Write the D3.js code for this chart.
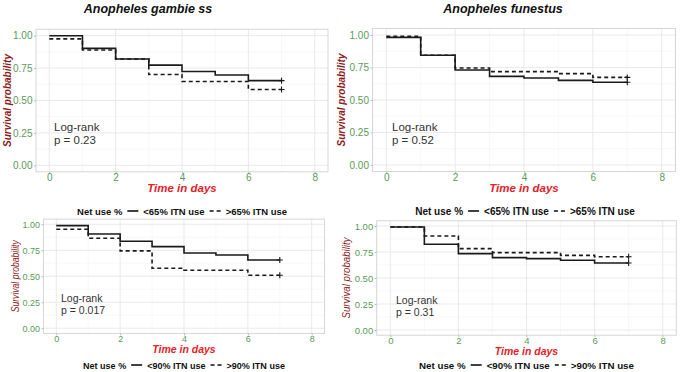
<!DOCTYPE html>
<html><head><meta charset="utf-8">
<script src="https://cdn.jsdelivr.net/npm/d3@7"></script>
<style>
html,body{margin:0;padding:0;background:#fff;}
svg{display:block;}
</style></head>
<body>
<svg id="chart" width="680" height="372"></svg>
<script>
// ---- data ----
const days = [0, 1, 2, 3, 4, 5, 6, 7];
const xTicks = [0, 2, 4, 6, 8];
const yTicks = [0, 0.25, 0.5, 0.75, 1];
const yTickLabels = ["0.00", "0.25", "0.50", "0.75", "1.00"];
// survival probability on each interval [t, t+1), t = 0..6
const gambie65Low  = [1.000, 0.902, 0.820, 0.773, 0.724, 0.697, 0.653];
const gambie65High = [0.975, 0.890, 0.820, 0.700, 0.647, 0.647, 0.585];
const funestus65Low  = [0.982, 0.844, 0.731, 0.682, 0.669, 0.651, 0.636];
const funestus65High = [0.990, 0.844, 0.746, 0.718, 0.718, 0.703, 0.674];
const gambie90Low  = [0.987, 0.907, 0.837, 0.785, 0.724, 0.705, 0.657];
const gambie90High = [0.952, 0.865, 0.744, 0.577, 0.558, 0.558, 0.510];
const funestus90Low  = [0.990, 0.824, 0.734, 0.696, 0.686, 0.670, 0.644];
const funestus90High = [0.990, 0.904, 0.782, 0.744, 0.744, 0.718, 0.705];
const titles = ["Anopheles gambie ss", "Anopheles funestus"];
const pValues = ["p = 0.23", "p = 0.52", "p = 0.017", "p = 0.31"];
const legend65 = ["Net use %", "<65% ITN use", ">65% ITN use"];
const legend90 = ["Net use %", "<90% ITN use", ">90% ITN use"];

// ---- layout ----
const svg = d3.select("#chart");
const GREEN = "#5a9a5a", DARKRED = "#8e1b1b", RED = "#e42127";
const fam = "Liberation Sans, Arial, sans-serif";
const panels = [
  {l:36, r:328, t:29.2, b:171.8, low:gambie65Low, high:gambie65High, p:pValues[0],
   tickFs:10, narrow:false, ytX:7, ytLen:93, lr:[54,127], lrFs:11.5, xtY:192, xtFs:11.5, legY:211, legC:182, legW:210, leg:legend65, legFs:10.5},
  {l:372.5, r:675.5, t:28.5, b:171.5, low:funestus65Low, high:funestus65High, p:pValues[1],
   tickFs:10, narrow:false, ytX:341, ytLen:93, lr:[392,127], lrFs:11.5, xtY:192, xtFs:11.5, legY:211, legC:525, legW:220, leg:legend65, legFs:10.5},
  {l:43.5, r:324.5, t:219.1, b:333.4, low:gambie90Low, high:gambie90High, p:pValues[2],
   tickFs:9, narrow:true, ytX:15, ytLen:72, lr:[61,297.5], lrFs:10.5, xtY:353, xtFs:10.5, legY:365, legC:184, legW:202, leg:legend90, legFs:9.5},
  {l:376.7, r:676.3, t:220.8, b:335.2, low:funestus90Low, high:funestus90High, p:pValues[3],
   tickFs:9.5, narrow:true, ytX:346, ytLen:81, lr:[396,300], lrFs:10.5, xtY:354.5, xtFs:10.5, legY:365, legC:526.5, legW:215, leg:legend90, legFs:9.5}
];

// titles
svg.append("text").attr("x",148).attr("y",12.5).attr("text-anchor","middle")
  .attr("font-family",fam).attr("font-weight","bold").attr("font-style","italic")
  .attr("font-size",12.5).attr("fill","#111").text(titles[0]);
svg.append("text").attr("x",503).attr("y",12.5).attr("text-anchor","middle")
  .attr("font-family",fam).attr("font-weight","bold").attr("font-style","italic")
  .attr("font-size",12.5).attr("fill","#111").text(titles[1]);

panels.forEach(P => {
  const x = d3.scaleLinear().domain([-0.4, 8.4]).range([P.l, P.r]);
  const y = d3.scaleLinear().domain([-0.05, 1.05]).range([P.b, P.t]);
  const g = svg.append("g");
  g.append("rect").attr("x",P.l).attr("y",P.t).attr("width",P.r-P.l).attr("height",P.b-P.t).attr("fill","#fff");
  // minor grid
  [1,3,5,7].forEach(v => g.append("line").attr("x1",x(v)).attr("x2",x(v)).attr("y1",P.t).attr("y2",P.b)
     .attr("stroke","#f3f3f3").attr("stroke-width",0.6));
  [0.125,0.375,0.625,0.875].forEach(v => g.append("line").attr("y1",y(v)).attr("y2",y(v)).attr("x1",P.l).attr("x2",P.r)
     .attr("stroke","#f3f3f3").attr("stroke-width",0.6));
  // major grid
  xTicks.forEach(v => g.append("line").attr("x1",x(v)).attr("x2",x(v)).attr("y1",P.t).attr("y2",P.b)
     .attr("stroke","#e6e6e6").attr("stroke-width",0.9));
  yTicks.forEach(v => g.append("line").attr("y1",y(v)).attr("y2",y(v)).attr("x1",P.l).attr("x2",P.r)
     .attr("stroke","#e6e6e6").attr("stroke-width",0.9));
  g.append("rect").attr("x",P.l).attr("y",P.t).attr("width",P.r-P.l).attr("height",P.b-P.t)
     .attr("fill","none").attr("stroke","#d2d2d2").attr("stroke-width",0.9);

  // axes via d3
  const xAxis = d3.axisBottom(x).tickValues(xTicks).tickSize(2).tickPadding(0);
  const ax = g.append("g").attr("transform",`translate(0,${P.b})`).call(xAxis);
  ax.select(".domain").remove();
  ax.selectAll("line").attr("stroke","#bbb");
  ax.selectAll("text").attr("fill",GREEN).attr("font-size",P.tickFs).attr("font-family",fam);
  const yAxis = d3.axisLeft(y).tickValues(yTicks).tickFormat((d,i)=>yTickLabels[i]).tickSize(2).tickPadding(1.5);
  const ay = g.append("g").attr("transform",`translate(${P.l},0)`).call(yAxis);
  ay.select(".domain").remove();
  ay.selectAll("line").attr("stroke","#bbb");
  ay.selectAll("text").attr("fill",GREEN).attr("font-size",P.tickFs).attr("font-family",fam);

  // curves
  const line = d3.line().x(d=>x(d[0])).y(d=>y(d[1])).curve(d3.curveStepAfter);
  const pts = arr => days.map((t,i) => [t, arr[Math.min(i, arr.length-1)]]);
  g.append("path").attr("d", line(pts(P.high))).attr("fill","none").attr("stroke","#1a1a1a")
    .attr("stroke-width",1.6).attr("stroke-dasharray","4,3");
  g.append("path").attr("d", line(pts(P.low))).attr("fill","none").attr("stroke","#1a1a1a")
    .attr("stroke-width",1.6);
  // censor marks
  [P.low, P.high].forEach(arr => {
    const cx = x(days[days.length-1]), cy = y(arr[arr.length-1]);
    g.append("path").attr("d",`M${cx-3},${cy}H${cx+3}M${cx},${cy-3}V${cy+3}`)
      .attr("stroke","#1a1a1a").attr("stroke-width",1.1);
  });

  // log-rank text
  g.append("text").attr("x",P.lr[0]).attr("y",P.lr[1]+4).attr("font-family",fam).attr("font-size",P.lrFs)
    .attr("fill","#333").text("Log-rank");
  g.append("text").attr("x",P.lr[0]).attr("y",P.lr[1]+4+P.lrFs*1.15).attr("font-family",fam).attr("font-size",P.lrFs)
    .attr("fill","#333").text(P.p);

  // y title
  const yc = (P.t+P.b)/2;
  const yt = g.append("text").attr("transform",`translate(${P.ytX+4},${yc}) rotate(-90)`).attr("text-anchor","middle")
    .attr("fill",DARKRED).attr("font-style","italic").attr("font-family",fam)
    .attr("textLength",P.ytLen).attr("lengthAdjust","spacingAndGlyphs").text("Survival probability");
  if (P.narrow) {
    yt.attr("font-size",P.ytX<100?10.5:11.5);
  } else {
    yt.attr("font-weight","bold").attr("font-size",10);
  }
  // x title
  g.append("text").attr("x",(x(0)+x(8))/2).attr("y",P.xtY).attr("text-anchor","middle")
    .attr("font-family",fam).attr("font-weight","bold").attr("font-style","italic")
    .attr("font-size",P.xtFs).attr("fill",RED).text("Time in days");

  // legend: measure, then size font so the whole row matches target width
  const meas = svg.append("text").attr("font-family",fam).attr("font-weight","bold").attr("font-size",P.legFs);
  let textSum = 0;
  P.leg.forEach(s => { meas.text(s); textSum += meas.node().getComputedTextLength(); });
  meas.remove();
  const fixed = 5 + 11 + 5 + 5 + 11 + 5;
  const fs = P.legFs * (P.legW - fixed) / textSum;
  const lg = svg.append("g");
  let cur = 0;
  const mk = (txt) => {
    const t = lg.append("text").attr("x",cur).attr("y",P.legY+3.5).attr("font-family",fam).attr("font-weight","bold")
      .attr("font-size",fs).attr("fill","#111").text(txt);
    cur += t.node().getComputedTextLength();
  };
  mk(P.leg[0]); cur += 5;
  lg.append("line").attr("x1",cur).attr("x2",cur+11).attr("y1",P.legY).attr("y2",P.legY).attr("stroke","#111").attr("stroke-width",1.6);
  cur += 11 + 5;
  mk(P.leg[1]); cur += 5;
  lg.append("line").attr("x1",cur).attr("x2",cur+11).attr("y1",P.legY).attr("y2",P.legY).attr("stroke","#111")
    .attr("stroke-width",1.6).attr("stroke-dasharray","4,3");
  cur += 11 + 5;
  mk(P.leg[2]);
  lg.attr("transform",`translate(${P.legC - cur/2},0)`);
});
</script>
</body></html>
